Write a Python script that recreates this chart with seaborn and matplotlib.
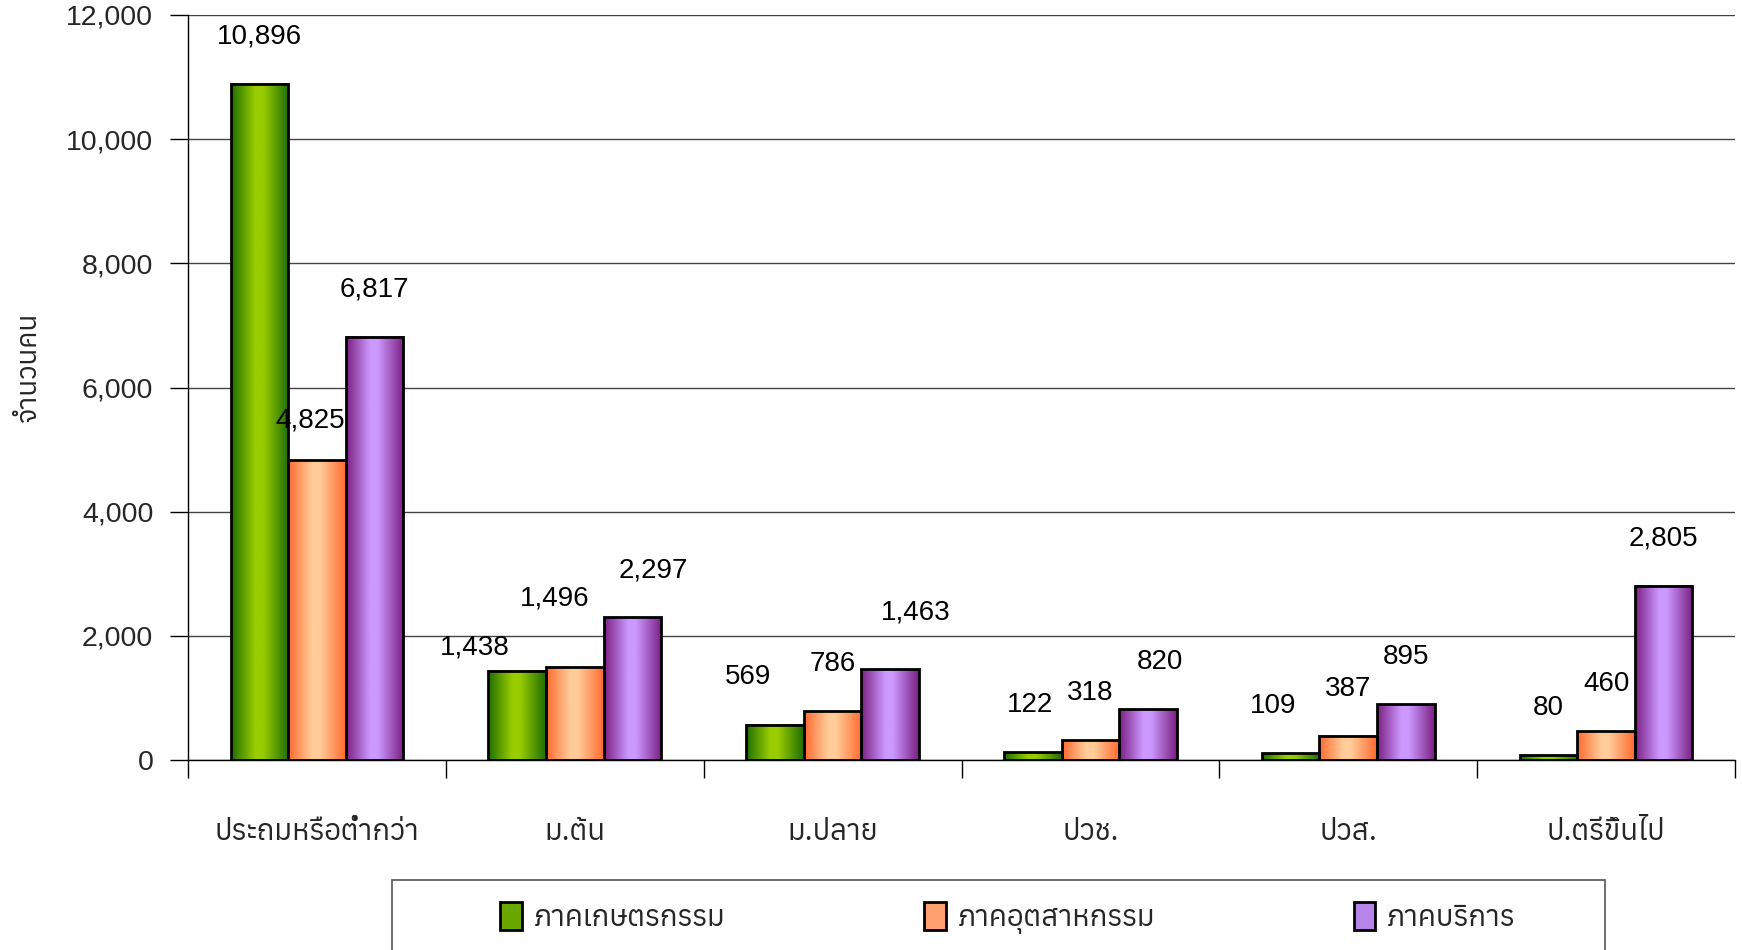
import numpy as np
import pandas as pd
import matplotlib
matplotlib.use("Agg")
import matplotlib.pyplot as plt
import seaborn as sns
from matplotlib import font_manager as fm
from matplotlib.ft2font import FT2Font
from matplotlib.colors import LinearSegmentedColormap
from matplotlib.patches import Patch, Rectangle

# ---------------- data ----------------
levels = ["ประถมหรือต่ำกว่า", "ม.ต้น", "ม.ปลาย", "ปวช.", "ปวส.", "ป.ตรีขึ้นไป"]
sectors = ["ภาคเกษตรกรรม", "ภาคอุตสาหกรรม", "ภาคบริการ"]
agri = [10896, 1438, 569, 122, 109, 80]
indus = [4825, 1496, 786, 318, 387, 460]
serv = [6817, 2297, 1463, 820, 895, 2805]
y_ticks = [0, 2000, 4000, 6000, 8000, 10000, 12000]
y_label = "จำนวนคน"

# ---------------- fonts ----------------
cands = []
for f in fm.fontManager.ttflist:
    try:
        ft = FT2Font(f.fname)
        if ft.get_char_index(ord("ก")):
            cands.append(f.name)
    except Exception:
        pass
cands = sorted(set(cands))
thai_font = "Anuphan" if "Anuphan" in cands else (cands[0] if cands else None)
thai_family = ([thai_font] if thai_font else []) + ["DejaVu Sans"]
num_family = ["Liberation Sans", "DejaVu Sans"]

sns.set_theme(style="white")
plt.rcParams["font.family"] = num_family

df = pd.DataFrame({
    "level": levels * 3,
    "sector": [sectors[0]] * 6 + [sectors[1]] * 6 + [sectors[2]] * 6,
    "count": agri + indus + serv,
})

edge_cols = ["#1e6e00", "#ff6a30", "#7a1e82"]
light_cols = ["#9acd00", "#ffcc99", "#cc99ff"]
legend_cols = ["#6aa800", "#ffa070", "#b784ea"]

fig = plt.figure(figsize=(17.42, 9.5), dpi=100)
ax = fig.add_axes([188 / 1742, 1 - 760 / 950, (1735 - 188) / 1742, (760 - 15) / 950])

sns.barplot(data=df, x="level", y="count", hue="sector", hue_order=sectors,
            order=levels, palette=legend_cols, width=0.67, dodge=True,
            legend=False, ax=ax, saturation=1)

for cont, ec, lc in zip(ax.containers, edge_cols, light_cols):
    cmap = LinearSegmentedColormap.from_list("g", [(0, ec), (0.42, lc), (0.55, lc), (1, ec)])
    grad = np.linspace(0, 1, 256).reshape(1, -1)
    for bar in cont:
        x0, w, h = bar.get_x(), bar.get_width(), bar.get_height()
        ax.imshow(grad, extent=[x0, x0 + w, 0, h], aspect="auto", cmap=cmap,
                  zorder=2, interpolation="bicubic")
        bar.set_facecolor("none")
        bar.set_edgecolor("black")
        bar.set_linewidth(2)
        bar.set_zorder(3)

nudges = [
    [(0, 0), (-42, -24), (-27, 0), (-3, 0), (-18, 0), (0, 0)],
    [(-7, -7), (-20, 21), (0, 0), (0, 0), (0, 0), (0, 0)],
    [(0, 0), (21, 0), (26, 9), (12, 0), (0, 0), (0, 0)],
]
for cont, nd in zip(ax.containers, nudges):
    for bar, (dx, dy) in zip(cont, nd):
        v = bar.get_height()
        ax.annotate(f"{int(round(v)):,}", (bar.get_x() + bar.get_width() / 2, v),
                    xytext=(dx * 0.72, 34 + dy * 0.72), textcoords="offset points",
                    ha="center", va="center", fontsize=20, family=num_family,
                    color="black", zorder=5)

ax.set_ylim(0, 12000)
ax.set_xlim(-0.5, len(levels) - 0.5)
ax.set_yticks(y_ticks)
ax.set_yticklabels([f"{t:,}" for t in y_ticks], fontsize=20.5, family=num_family)
ax.yaxis.grid(True, color="#444444", linewidth=1)
ax.set_axisbelow(True)
ax.tick_params(axis="y", which="major", direction="out", length=13, width=1,
               color="black", left=True, pad=12)

ax.set_xticks(range(len(levels)))
ax.set_xticklabels(levels, fontsize=21, family=thai_family)
ax.set_xticks(np.arange(-0.5, len(levels)), minor=True)
ax.tick_params(axis="x", which="major", length=0, pad=42)
ax.tick_params(axis="x", which="minor", direction="out", length=13, width=1,
               color="black", bottom=True)

for s in ["top", "right"]:
    ax.spines[s].set_visible(False)
for s in ["left", "bottom"]:
    ax.spines[s].set_color("black")
    ax.spines[s].set_linewidth(1)

ax.set_xlabel("")
ax.set_ylabel(y_label, fontsize=20, family=thai_family)
ax.yaxis.set_label_coords((42 - 188) / 1547, (760 - 367) / 745)

# legend frame (extends past the bottom edge like the original)
fig.patches.append(Rectangle((392 / 1742, -0.05), 1213 / 1742, 0.05 + 1 - 880 / 950,
                             transform=fig.transFigure, facecolor="white",
                             edgecolor="#555555", linewidth=1.2, zorder=0))
handles = [Patch(facecolor=c, edgecolor="black", linewidth=2) for c in legend_cols]
leg = fig.legend(handles, sectors, loc="center",
                 bbox_to_anchor=(1008 / 1742, 1 - 918 / 950),
                 ncol=3, frameon=False,
                 prop={"family": thai_family, "size": 21},
                 handlelength=0.75, handleheight=1.1, handletextpad=0.4,
                 columnspacing=6.8, borderaxespad=0)

fig.savefig("out.png", dpi=100)
